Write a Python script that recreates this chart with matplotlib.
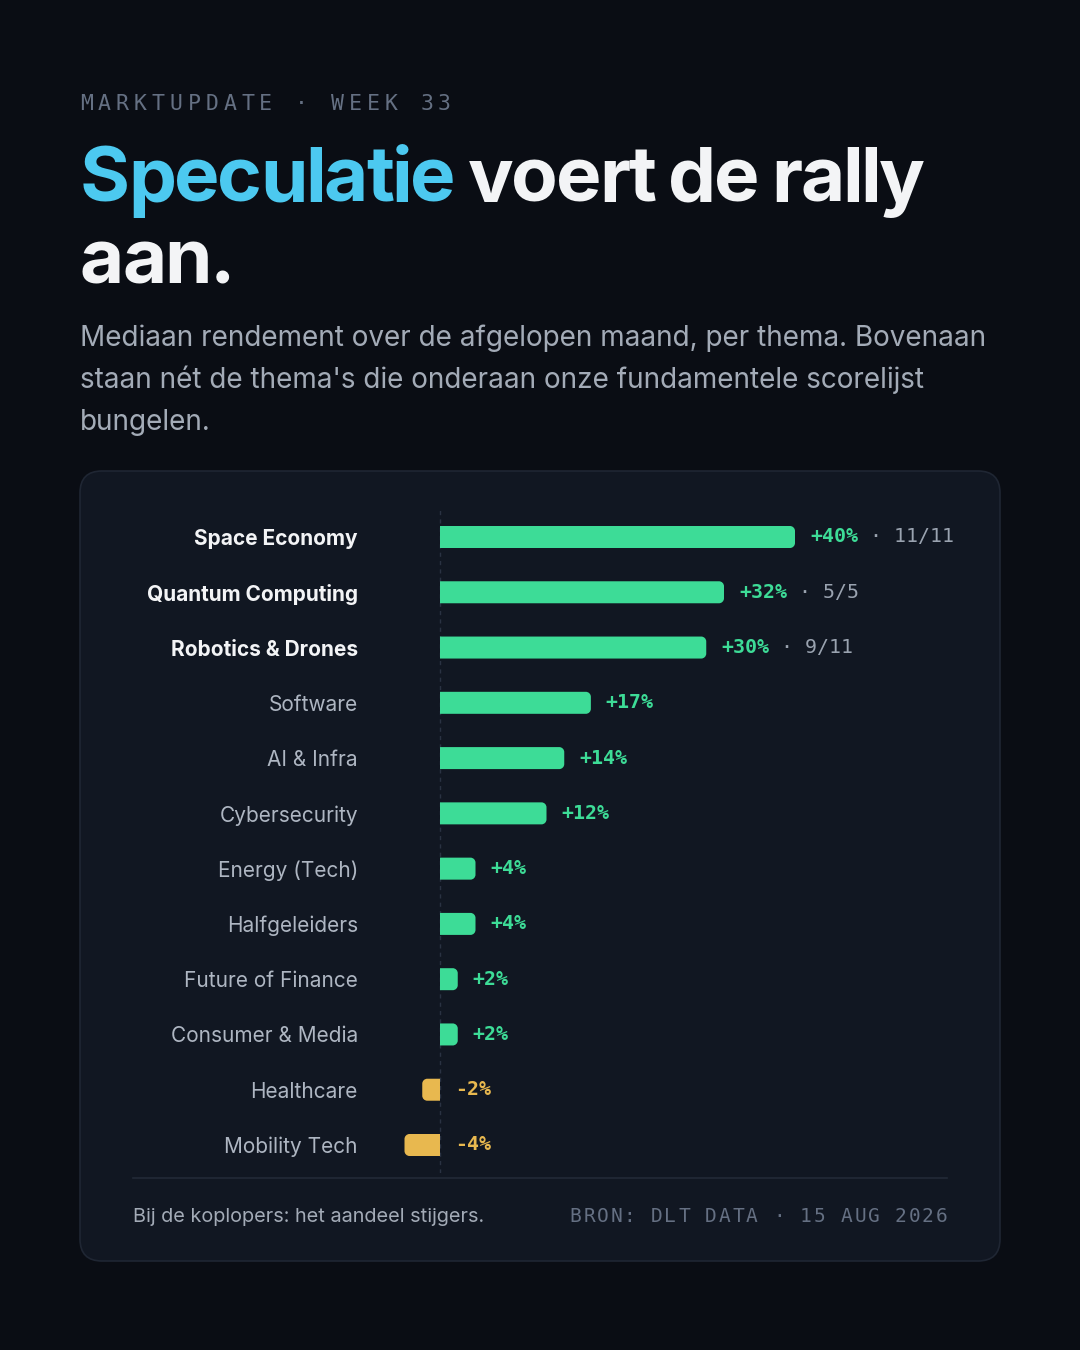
import matplotlib
matplotlib.use("Agg")
import matplotlib.pyplot as plt
from matplotlib.patches import FancyBboxPatch, PathPatch
from matplotlib.path import Path
from matplotlib.font_manager import FontProperties, findfont, get_font

# ---------------- data ----------------
categories = ["Space Economy", "Quantum Computing", "Robotics & Drones", "Software",
              "AI & Infra", "Cybersecurity", "Energy (Tech)", "Halfgeleiders",
              "Future of Finance", "Consumer & Media", "Healthcare", "Mobility Tech"]
returns_pct = [40, 32, 30, 17, 14, 12, 4, 4, 2, 2, -2, -4]
share_risers = ["11/11", "5/5", "9/11", None, None, None, None, None, None, None, None, None]

kicker = "MARKTUPDATE · WEEK 33"
title_accent = "Speculatie"
title_rest_1 = " voert de rally"
title_line_2 = "aan."
subtitle_lines = ["Mediaan rendement over de afgelopen maand, per thema. Bovenaan",
                  "staan nét de thema's die onderaan onze fundamentele scorelijst",
                  "bungelen."]
footer_left = "Bij de koplopers: het aandeel stijgers."
footer_right = "BRON: DLT DATA · 15 AUG 2026"

# ---------------- style ----------------
BG = "#0a0d14"
CARD = "#111722"
CARD_EDGE = "#1f2633"
GREEN = "#3ddc97"
AMBER = "#e8b84f"
BLUE = "#4cc9f0"
WHITE = "#f3f4f6"
LABEL_GREY = "#aeb6c2"
MUTED = "#9aa3b0"
DIM = "#657083"
SANS = ["Inter", "DejaVu Sans"]
MONO = ["DejaVu Sans Mono"]

W, H = 1080, 1350
DPI = 100
fig = plt.figure(figsize=(W / DPI, H / DPI), dpi=DPI, facecolor=BG)

# pixel overlay
ov = fig.add_axes([0, 0, 1, 1], zorder=0)
ov.set_xlim(0, W)
ov.set_ylim(H, 0)
ov.axis("off")
ov.set_facecolor(BG)

# card
ov.add_patch(FancyBboxPatch((80, 471), 920, 790, boxstyle="round,pad=0,rounding_size=22",
                            facecolor=CARD, edgecolor=CARD_EDGE, linewidth=1.2))
# divider
ov.plot([133, 947], [1178, 1178], color="#222a37", linewidth=1.2)


def spaced(x, y, s, adv, **kw):
    for i, ch in enumerate(s):
        ov.text(x + i * adv, y, ch, ha="left", va="baseline", **kw)


def tracked(x, y, s, size, weight, color, track, space_track=None):
    """Draw text char by char with glyph advances + tracking (px). Returns end x."""
    prop = FontProperties(family=SANS, weight=weight, size=size)
    f = get_font(findfont(prop))
    f.set_size(size, DPI)
    pen = 0.0
    prev = None
    for ch in s:
        gi = f.get_char_index(ord(ch))
        if prev is not None:
            try:
                from matplotlib.ft2font import Kerning
                pen += f.get_kerning(prev, gi, Kerning.DEFAULT) / 64.0
            except Exception:
                pass
        if ch != " ":
            ov.text(x + pen, y, ch, ha="left", va="baseline", fontproperties=prop, color=color)
        g = f.load_char(ord(ch))
        tr = track if (ch != " " or space_track is None) else space_track
        pen += g.linearHoriAdvance / 65536.0 + tr
        prev = gi
    return x + pen


# kicker
spaced(80, 110, kicker, 17.9, fontsize=15.5, color=DIM, family=MONO)

# title
TS = 55
TR = -2.2
xend = tracked(80, 202, title_accent, TS, "bold", BLUE, TR, -4)
tracked(xend, 202, title_rest_1, TS, "bold", WHITE, TR, -4)
tracked(80, 283, title_line_2, TS, "bold", WHITE, TR, -4)

# subtitle
for k, line in enumerate(subtitle_lines):
    ov.text(80, 346 + 42 * k, line, fontsize=20.1, color="#a3abb7", family=SANS,
            ha="left", va="baseline")

# footer
ov.text(133, 1222, footer_left, fontsize=14.3, color="#a3abb7", family=SANS,
        ha="left", va="baseline")
n = len(footer_right)
adv = 13.55
spaced(947 - (n - 1) * adv - 11.5, 1222, footer_right, adv, fontsize=14, color=DIM, family=MONO)

# ---------------- bar axes ----------------
px_per_unit = 8.875
row_px = (1145 - 537) / 11
xmin, xmax = -8, 62
ax_left = 440 + xmin * px_per_unit
ax_w = (xmax - xmin) * px_per_unit
ax_top = 537 - row_px / 2
ax_h = row_px * len(categories)
ax = fig.add_axes([ax_left / W, (H - ax_top - ax_h) / H, ax_w / W, ax_h / H], zorder=1)
ax.set_xlim(xmin, xmax)
ax.set_ylim(len(categories) - 0.5, -0.5)
ax.patch.set_alpha(0)
for sp in ax.spines.values():
    sp.set_visible(False)
ax.set_xticks([])

ax.axvline(0, color="#2a3242", linewidth=1, linestyle=(0, (3, 3)), zorder=1)

bar_h = 22 / row_px
rx = 5 / px_per_unit          # corner radius in x data units
ry = 5 / row_px               # corner radius in y data units
K = 0.5523


def bar_path(v, yc):
    """Bar from 0 to v, rounded only at the outer end."""
    s = 1 if v >= 0 else -1
    r = s * rx
    y0, y1 = yc - bar_h / 2, yc + bar_h / 2
    e = v
    verts = [(0, y0), (e - r, y0),
             (e - r + K * r, y0), (e, y0 + ry - K * ry), (e, y0 + ry),
             (e, y1 - ry),
             (e, y1 - ry + K * ry), (e - r + K * r, y1), (e - r, y1),
             (0, y1), (0, y0)]
    codes = [Path.MOVETO, Path.LINETO,
             Path.CURVE4, Path.CURVE4, Path.CURVE4,
             Path.LINETO,
             Path.CURVE4, Path.CURVE4, Path.CURVE4,
             Path.LINETO, Path.CLOSEPOLY]
    return Path(verts, codes)


for i, v in enumerate(returns_pct):
    col = GREEN if v >= 0 else AMBER
    ax.add_patch(PathPatch(bar_path(v, i), facecolor=col, edgecolor="none", zorder=2))
    label = f"{v:+d}%"
    xa = max(v, 0)
    t = ax.annotate(label, xy=(xa, i), xytext=(10.8, 0), textcoords="offset points",
                    ha="left", va="center", fontsize=14.3, fontweight="bold",
                    color=col, family=MONO)
    if share_risers[i]:
        ax.annotate(" · " + share_risers[i], xy=(1, 0.5), xycoords=t,
                    ha="left", va="center", fontsize=14.3,
                    color=MUTED, family=MONO)

ax.set_yticks(range(len(categories)), labels=categories)
ax.tick_params(axis="y", length=0, pad=(ax_left - 358) * 0.72)
for i, lbl in enumerate(ax.get_yticklabels()):
    lbl.set_family(SANS)
    lbl.set_fontsize(15)
    if share_risers[i]:
        lbl.set_fontweight("bold")
        lbl.set_color(WHITE)
    else:
        lbl.set_color(LABEL_GREY)

fig.savefig("out.png", dpi=DPI, facecolor=BG)
